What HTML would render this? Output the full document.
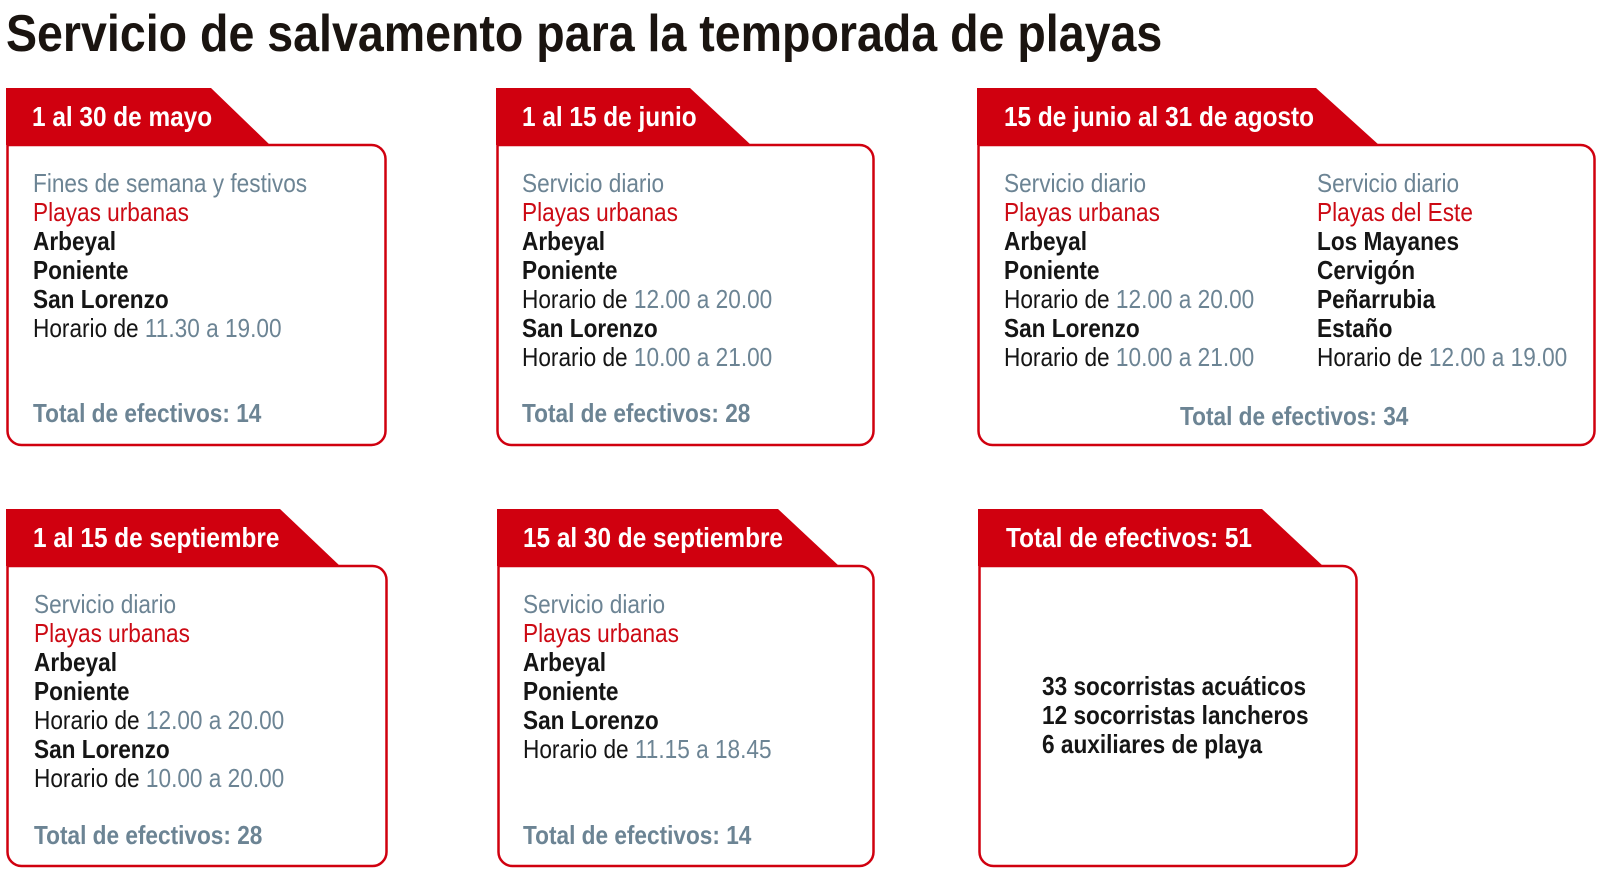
<!DOCTYPE html>
<html><head><meta charset="utf-8"><style>
body{margin:0;width:1600px;height:883px;background:#fff;overflow:hidden;position:relative;font-family:"Liberation Sans",sans-serif}
.t{position:absolute;white-space:nowrap;transform:scaleX(0.87);transform-origin:left center;font-size:26px;line-height:29px}
.g{color:#6c8494}.r{color:#cc0a14}.b{color:#151515;font-weight:bold}.k{color:#151515}
.gb{color:#6c8494;font-weight:bold}
.h{position:absolute;white-space:nowrap;color:#fff;font-weight:bold;font-size:28px;line-height:34px;transform:scaleX(0.87);transform-origin:left center}
</style></head><body>
<div style="position:absolute;left:6px;top:4px;font-size:52px;font-weight:bold;color:#1a1410;white-space:nowrap;transform:scaleX(0.895);transform-origin:left top;line-height:60px">Servicio de salvamento para la temporada de playas</div>
<svg width="1600" height="883" style="position:absolute;left:0;top:0">
<g fill="#d0000f">
<polygon points="6,88 211,88 270,145 6,145"/>
<polygon points="496,88 690,88 751,145 496,145"/>
<polygon points="977,88 1316,88 1379,145 977,145"/>
<polygon points="6,509 280,509 340,566 6,566"/>
<polygon points="497,509 778,509 839,566 497,566"/>
<polygon points="978,509 1262,509 1323,566 978,566"/>
</g>
<g fill="none" stroke="#d0000f" stroke-width="2.5">
<path d="M7.5,145 H371.5 A14,14 0 0 1 385.5,159 V431 A14,14 0 0 1 371.5,445 H21.5 A14,14 0 0 1 7.5,431 Z"/>
<path d="M497.5,145 H859.5 A14,14 0 0 1 873.5,159 V431 A14,14 0 0 1 859.5,445 H511.5 A14,14 0 0 1 497.5,431 Z"/>
<path d="M978.5,145 H1580.5 A14,14 0 0 1 1594.5,159 V431 A14,14 0 0 1 1580.5,445 H992.5 A14,14 0 0 1 978.5,431 Z"/>
<path d="M7.5,566 H372.5 A14,14 0 0 1 386.5,580 V852 A14,14 0 0 1 372.5,866 H21.5 A14,14 0 0 1 7.5,852 Z"/>
<path d="M498.5,566 H859.5 A14,14 0 0 1 873.5,580 V852 A14,14 0 0 1 859.5,866 H512.5 A14,14 0 0 1 498.5,852 Z"/>
<path d="M979.5,566 H1342.5 A14,14 0 0 1 1356.5,580 V852 A14,14 0 0 1 1342.5,866 H993.5 A14,14 0 0 1 979.5,852 Z"/>
</g>
</svg>
<div class="h" style="left:32px;top:100px">1 al 30 de mayo</div>
<div class="h" style="left:522px;top:100px">1 al 15 de junio</div>
<div class="h" style="left:1004px;top:100px">15 de junio al 31 de agosto</div>
<div class="h" style="left:33px;top:521px">1 al 15 de septiembre</div>
<div class="h" style="left:523px;top:521px">15 al 30 de septiembre</div>
<div class="h" style="left:1006px;top:521px">Total de efectivos: 51</div>

<div class="t g" style="left:33px;top:169px">Fines de semana y festivos</div>
<div class="t r" style="left:33px;top:198px">Playas urbanas</div>
<div class="t b" style="left:33px;top:227px">Arbeyal</div>
<div class="t b" style="left:33px;top:256px">Poniente</div>
<div class="t b" style="left:33px;top:285px">San Lorenzo</div>
<div class="t k" style="left:33px;top:314px">Horario de <span class="g">11.30 a 19.00</span></div>
<div class="t gb" style="left:33px;top:399px">Total de efectivos: 14</div>

<div class="t g" style="left:522px;top:169px">Servicio diario</div>
<div class="t r" style="left:522px;top:198px">Playas urbanas</div>
<div class="t b" style="left:522px;top:227px">Arbeyal</div>
<div class="t b" style="left:522px;top:256px">Poniente</div>
<div class="t k" style="left:522px;top:285px">Horario de <span class="g">12.00 a 20.00</span></div>
<div class="t b" style="left:522px;top:314px">San Lorenzo</div>
<div class="t k" style="left:522px;top:343px">Horario de <span class="g">10.00 a 21.00</span></div>
<div class="t gb" style="left:522px;top:399px">Total de efectivos: 28</div>

<div class="t g" style="left:1004px;top:169px">Servicio diario</div>
<div class="t r" style="left:1004px;top:198px">Playas urbanas</div>
<div class="t b" style="left:1004px;top:227px">Arbeyal</div>
<div class="t b" style="left:1004px;top:256px">Poniente</div>
<div class="t k" style="left:1004px;top:285px">Horario de <span class="g">12.00 a 20.00</span></div>
<div class="t b" style="left:1004px;top:314px">San Lorenzo</div>
<div class="t k" style="left:1004px;top:343px">Horario de <span class="g">10.00 a 21.00</span></div>
<div class="t g" style="left:1317px;top:169px">Servicio diario</div>
<div class="t r" style="left:1317px;top:198px">Playas del Este</div>
<div class="t b" style="left:1317px;top:227px">Los Mayanes</div>
<div class="t b" style="left:1317px;top:256px">Cervigón</div>
<div class="t b" style="left:1317px;top:285px">Peñarrubia</div>
<div class="t b" style="left:1317px;top:314px">Estaño</div>
<div class="t k" style="left:1317px;top:343px">Horario de <span class="g">12.00 a 19.00</span></div>
<div class="t gb" style="left:1180px;top:402px">Total de efectivos: 34</div>

<div class="t g" style="left:34px;top:590px">Servicio diario</div>
<div class="t r" style="left:34px;top:619px">Playas urbanas</div>
<div class="t b" style="left:34px;top:648px">Arbeyal</div>
<div class="t b" style="left:34px;top:677px">Poniente</div>
<div class="t k" style="left:34px;top:706px">Horario de <span class="g">12.00 a 20.00</span></div>
<div class="t b" style="left:34px;top:735px">San Lorenzo</div>
<div class="t k" style="left:34px;top:764px">Horario de <span class="g">10.00 a 20.00</span></div>
<div class="t gb" style="left:34px;top:821px">Total de efectivos: 28</div>

<div class="t g" style="left:523px;top:590px">Servicio diario</div>
<div class="t r" style="left:523px;top:619px">Playas urbanas</div>
<div class="t b" style="left:523px;top:648px">Arbeyal</div>
<div class="t b" style="left:523px;top:677px">Poniente</div>
<div class="t b" style="left:523px;top:706px">San Lorenzo</div>
<div class="t k" style="left:523px;top:735px">Horario de <span class="g">11.15 a 18.45</span></div>
<div class="t gb" style="left:523px;top:821px">Total de efectivos: 14</div>

<div class="t b" style="left:1042px;top:672px">33 socorristas acuáticos</div>
<div class="t b" style="left:1042px;top:701px">12 socorristas lancheros</div>
<div class="t b" style="left:1042px;top:730px">6 auxiliares de playa</div>
</body></html>
